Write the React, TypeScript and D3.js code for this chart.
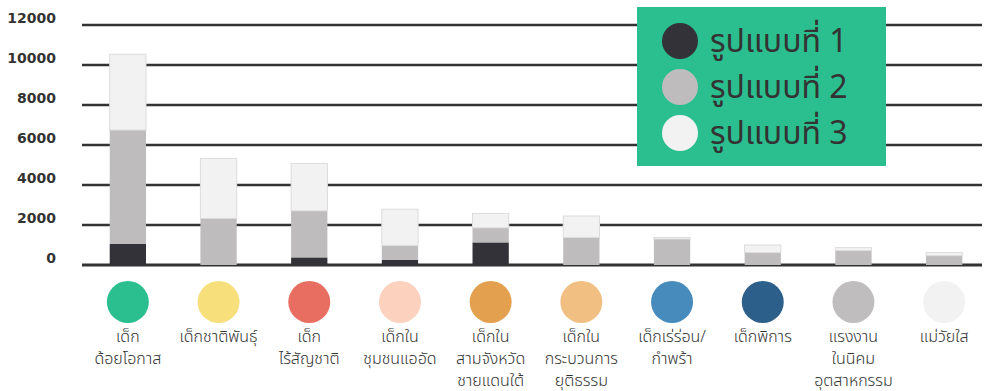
import React from "react";
import * as d3 from "d3";

const categories: string[][] = [
  ["เด็ก", "ด้อยโอกาส"],
  ["เด็กชาติพันธุ์"],
  ["เด็ก", "ไร้สัญชาติ"],
  ["เด็กใน", "ชุมชนแออัด"],
  ["เด็กใน", "สามจังหวัด", "ชายแดนใต้"],
  ["เด็กใน", "กระบวนการ", "ยุติธรรม"],
  ["เด็กเร่ร่อน/", "กำพร้า"],
  ["เด็กพิการ"],
  ["แรงงาน", "ในนิคม", "อุตสาหกรรม"],
  ["แม่วัยใส"],
];
const categoryColors = ["#2bbf8f", "#f7e07c", "#e86e62", "#fcd1be", "#e3a04f", "#f2bf82", "#478bbd", "#2c5f8a", "#bfbdbe", "#f2f2f2"];

const series1 = [1050, 0, 380, 250, 1130, 0, 0, 0, 0, 0];
const series2 = [5700, 2330, 2330, 720, 730, 1380, 1300, 620, 720, 470];
const series3 = [3785, 3000, 2370, 1820, 720, 1070, 80, 380, 150, 150];
const seriesNames = ["รูปแบบที่ 1", "รูปแบบที่ 2", "รูปแบบที่ 3"];
const seriesColors = ["#333238", "#bfbcbd", "#f2f2f2"];
const yTicks = [0, 2000, 4000, 6000, 8000, 10000, 12000];

export default function App() {
  const width = 989;
  const height = 391;
  const y = d3.scaleLinear().domain([0, 12000]).range([265, 25]);
  const x = d3
    .scaleBand<number>()
    .domain(d3.range(categories.length))
    .range([82.5, 989.5])
    .paddingInner(0.6)
    .paddingOuter(0.3);
  const rows = categories.map((_, i) => ({ i, s1: series1[i], s2: series2[i], s3: series3[i] }));
  const stack = d3.stack<any>().keys(["s1", "s2", "s3"])(rows);
  const font = "'Noto Sans Thai', 'Noto Sans', sans-serif";

  return (
    <svg width={width} height={height} style={{ position: "absolute", left: 0, top: 0, background: "#fff" }}>
      {yTicks.map((t) => (
        <g key={t}>
          <line x1={82} x2={982} y1={y(t)} y2={y(t)} stroke="#333" strokeWidth={t === 0 ? 3 : 2.5} />
          <text
            x={56}
            y={y(t) - 2}
            textAnchor="end"
            fontFamily="'DejaVu Sans', sans-serif"
            fontWeight="bold"
            fontSize={14}
            fill="#333"
          >
            {t}
          </text>
        </g>
      ))}
      {stack.map((layer, si) =>
        layer.map((d, i) => {
          const h = y(d[0]) - y(d[1]);
          if (h <= 0) return null;
          return (
            <rect
              key={si + "-" + i}
              x={x(i)!}
              y={y(d[1])}
              width={x.bandwidth()}
              height={h}
              fill={seriesColors[si]}
              stroke={si === 2 ? "#dcdcdc" : "none"}
              strokeWidth={si === 2 ? 1 : 0}
            />
          );
        })
      )}
      {categories.map((lines, i) => {
        const cx = x(i)! + x.bandwidth() / 2;
        return (
          <g key={i}>
            <circle cx={cx} cy={302} r={21} fill={categoryColors[i]} />
            <text textAnchor="middle" fontFamily={font} fontSize={16} fill="#333" fontWeight={300}>
              {lines.map((l, k) => (
                <tspan key={k} x={cx} y={342 + k * 22}>
                  {l}
                </tspan>
              ))}
            </text>
          </g>
        );
      })}
      <rect x={637} y={7} width={249} height={159} fill="#2bbf8f" />
      {seriesNames.map((n, k) => (
        <g key={k}>
          <circle cx={680} cy={41 + k * 46} r={18} fill={seriesColors[k]} />
          <text x={710} y={52 + k * 46} fontFamily={font} fontSize={32} fill="#333">
            {n}
          </text>
        </g>
      ))}
    </svg>
  );
}
